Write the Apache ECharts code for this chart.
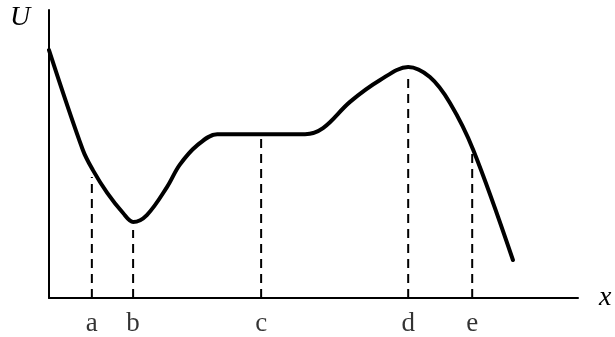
<!DOCTYPE html>
<html>
<head>
<meta charset="utf-8">
<script src="https://cdn.jsdelivr.net/npm/echarts@6/dist/echarts.min.js"></script>
<style>
  html, body { margin: 0; padding: 0; background: #fff; }
  #main { width: 615px; height: 337px; }
</style>
</head>
<body>
<div id="main"></div>
<script>
// potential energy curve U(x)
var curveX = [0, 0.64, 0.83, 1.10, 1.40, 1.59, 1.85, 2.23, 2.47, 2.80, 3.18, 3.6, 4.4, 4.84, 5.18, 5.69, 6.26, 6.79, 7.20, 7.58, 8.02, 8.77];
var curveU = [8.61, 5.14, 4.44, 3.65, 2.95, 2.64, 2.88, 3.85, 4.62, 5.30, 5.69, 5.69, 5.69, 5.69, 5.90, 6.81, 7.57, 8.02, 7.67, 6.77, 5.14, 1.32];

// marked positions and how high the dashed guide goes
var markNames = ['a', 'b', 'c', 'd', 'e'];
var markX = [0.81, 1.59, 4.01, 6.79, 8.0];
var markTop = [4.2, 2.36, 5.56, 7.81, 5.24];

var chart = echarts.init(document.getElementById('main'));

var serif = '"Liberation Serif", "DejaVu Serif", serif';

var series = [];
markX.forEach(function (x, i) {
  series.push({
    type: 'line',
    data: [[x, 0], [x, markTop[i]]],
    symbol: 'none',
    silent: true,
    lineStyle: { color: '#000', width: 2, type: [9, 6] }
  });
});

series.push({
  type: 'line',
  data: curveX.map(function (x, i) { return [x, curveU[i]]; }),
  smooth: 0.35,
  symbol: 'none',
  lineStyle: { color: '#000', width: 4, cap: 'round' }
});

// letters under the x axis
series.push({
  type: 'scatter',
  data: markX.map(function (x) { return [x, 0]; }),
  symbolSize: 0,
  silent: true,
  label: {
    show: true,
    position: 'bottom',
    distance: 12,
    color: '#000',
    fontFamily: serif,
    fontSize: 27,
    formatter: function (p) { return markNames[p.dataIndex]; }
  }
});

var option = {
  animation: false,
  backgroundColor: '#fff',
  grid: { left: 49, right: 37, top: 10, bottom: 39 },
  xAxis: {
    type: 'value',
    min: 0,
    max: 10,
    name: 'x',
    nameLocation: 'end',
    nameGap: 21,
    nameTextStyle: { color: '#000', fontFamily: serif, fontStyle: 'italic', fontSize: 28, verticalAlign: 'middle' },
    axisLine: { show: true, lineStyle: { color: '#000', width: 2 } },
    axisTick: { show: false },
    axisLabel: { show: false },
    splitLine: { show: false }
  },
  yAxis: {
    type: 'value',
    min: 0,
    max: 10,
    axisLine: { show: true, lineStyle: { color: '#000', width: 2 } },
    axisTick: { show: false },
    axisLabel: { show: false },
    splitLine: { show: false }
  },
  graphic: [{
    type: 'text',
    left: 10,
    top: 4,
    style: { text: 'U', fill: '#000', font: 'italic 28px ' + serif }
  }],
  series: series
};

chart.setOption(option);
</script>
</body>
</html>
